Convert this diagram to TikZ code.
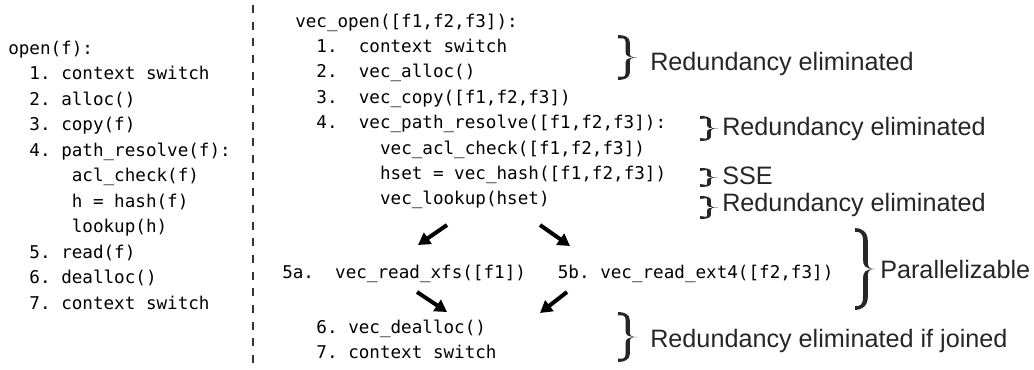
\documentclass[tikz,border=0pt]{standalone}
\usepackage{fontspec}
\setmainfont{Liberation Sans}
\setmonofont{DejaVu Sans Mono}
\usetikzlibrary{arrows.meta}
\tikzset{
  code/.style={font=\ttfamily\fontsize{13.2}{15}\selectfont, anchor=base west, inner sep=0pt},
  lbl/.style={font=\fontsize{18.9}{22}\selectfont, anchor=base west, inner sep=0pt, text=black!85},
  arr/.style={line width=3pt, -{Triangle[length=9pt,width=10pt]}},
  sep/.style={line width=1.2pt, dash pattern=on 6pt off 6.5pt, black!80},
  pics/rbr/.style n args={3}{code={
    \pgfmathsetmacro\bw{#1}\pgfmathsetmacro\bh{#2}\pgfmathsetmacro\bt{#3}
    \pgfmathsetmacro\bs{0.40*\bw}\pgfmathsetmacro\bo{\bs+\bt}
    \pgfmathsetmacro\be{0.8*\bt}\pgfmathsetmacro\bf{\bh-0.8*\bt}
    \fill[black!85]
      (0,0) .. controls (0.3*\bw,0) and (\bo,0.04*\bh) .. (\bo,0.16*\bh)
      -- (\bo,0.38*\bh)
      .. controls (\bo,0.46*\bh) and (0.62*\bw,0.5*\bh) .. (\bw,0.5*\bh)
      .. controls (0.62*\bw,0.5*\bh) and (\bo,0.54*\bh) .. (\bo,0.62*\bh)
      -- (\bo,0.84*\bh)
      .. controls (\bo,0.96*\bh) and (0.3*\bw,\bh) .. (0,\bh)
      -- (0,\bf)
      .. controls (0.22*\bw,\bf) and (\bs,0.95*\bh) .. (\bs,0.84*\bh)
      -- (\bs,0.62*\bh)
      .. controls (\bs,0.54*\bh) and (0.5*\bw,0.5*\bh) .. (\bw,0.5*\bh)
      .. controls (0.5*\bw,0.5*\bh) and (\bs,0.46*\bh) .. (\bs,0.38*\bh)
      -- (\bs,0.16*\bh)
      .. controls (\bs,0.05*\bh) and (0.22*\bw,\be) .. (0,\be)
      -- cycle;
  }}
}
\begin{document}
\begin{tikzpicture}[x=0.75pt,y=-0.75pt]
\useasboundingbox (0,0) rectangle (1034,369);
% separator
\coordinate (dtop) at (253,5);
\coordinate (dbot) at (253,369);
\draw[sep] (dtop) -- (dbot);
% left column
\node[code] (l0) at (8,54) {open(f):};
\node[code] (l1) at (29.2,79.5) {1. context switch};
\node[code] (l2) at (29.2,105) {2. alloc()};
\node[code] (l3) at (29.2,130.5) {3. copy(f)};
\node[code] (l4) at (29.2,156) {4. path\_resolve(f):};
\node[code] (l5) at (71.6,181.5) {acl\_check(f)};
\node[code] (l6) at (71.6,207) {h = hash(f)};
\node[code] (l7) at (71.6,232.5) {lookup(h)};
\node[code] (l8) at (29.2,258) {5. read(f)};
\node[code] (l9) at (29.2,283.5) {6. dealloc()};
\node[code] (l10) at (29.2,309) {7. context switch};
% right column
\node[code] (r0) at (295,27) {vec\_open([f1,f2,f3]):};
\node[code] (r1) at (316.2,52.4) {1.~~context switch};
\node[code] (r2) at (316.2,77.8) {2.~~vec\_alloc()};
\node[code] (r3) at (316.2,103.2) {3.~~vec\_copy([f1,f2,f3])};
\node[code] (r4) at (316.2,128.6) {4.~~vec\_path\_resolve([f1,f2,f3]):};
\node[code] (r5) at (379.8,154) {vec\_acl\_check([f1,f2,f3])};
\node[code] (r6) at (379.8,179.4) {hset = vec\_hash([f1,f2,f3])};
\node[code] (r7) at (379.8,204.8) {vec\_lookup(hset)};
\node[code] (r5a) at (282,278) {5a.~~vec\_read\_xfs([f1])};
\node[code] (r5b) at (557.6,278) {5b. vec\_read\_ext4([f2,f3])};
\node[code] (r8) at (316.2,333) {6. vec\_dealloc()};
\node[code] (r9) at (316.2,358) {7. context switch};
% arrows
\coordinate (a1s) at (447,225); \coordinate (a1e) at (418,245);
\coordinate (a2s) at (540,225); \coordinate (a2e) at (570,246);
\coordinate (a3s) at (417,292); \coordinate (a3e) at (447,312);
\coordinate (a4s) at (567,292); \coordinate (a4e) at (540,313);
\draw[arr] (a1s) -- (a1e);
\draw[arr] (a2s) -- (a2e);
\draw[arr] (a3s) -- (a3e);
\draw[arr] (a4s) -- (a4e);
% braces
\pic (b1) at (618,35) {rbr={19}{45}{4.2}};
\pic (b2) at (700,116) {rbr={18}{25}{3.6}};
\pic (b3) at (700,168) {rbr={18}{19}{3.6}};
\pic (b4) at (700,196) {rbr={18}{23}{3.6}};
\pic (b5) at (855,228) {rbr={20}{82}{4.8}};
\pic (b6) at (618,312) {rbr={19}{50}{4.2}};
% labels
\node[lbl] (t1) at (650,70) {Redundancy eliminated};
\node[lbl] (t2) at (722,135) {Redundancy eliminated};
\node[lbl] (t3) at (722,184) {SSE};
\node[lbl] (t4) at (722,211) {Redundancy eliminated};
\node[lbl] (t5) at (880,278) {Parallelizable};
\node[lbl] (t6) at (650,347) {Redundancy eliminated if joined};
\end{tikzpicture}
\end{document}
